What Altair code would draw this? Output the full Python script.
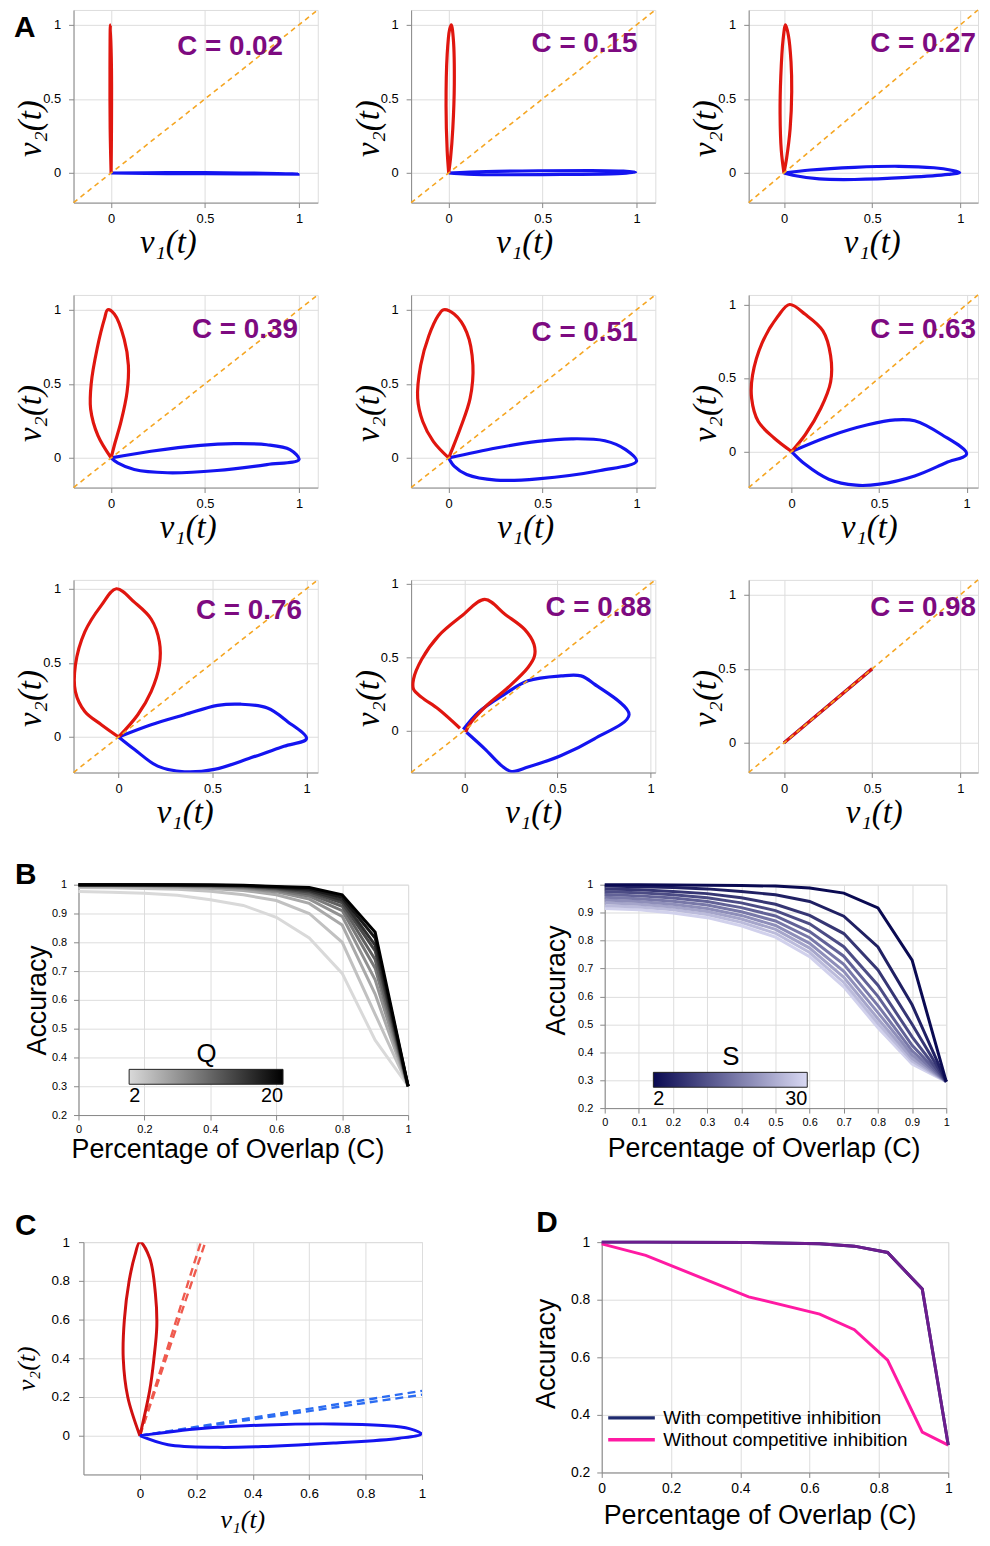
import altair as alt
import pandas as pd

SANS = "Liberation Sans, Arial, Helvetica, sans-serif"
SERIF = "Liberation Serif, DejaVu Serif, Times New Roman, serif"
RED = "#e0160f"
BLUE = "#1414f0"
ORANGE = "#f5a623"
PURPLE_TXT = "#7d0a80"

# ---------------- Panel A : phase portraits ----------------
A_LABELS = ["C = 0.02", "C = 0.15", "C = 0.27", "C = 0.39", "C = 0.51",
            "C = 0.63", "C = 0.76", "C = 0.88", "C = 0.98"]
A_LO = [-0.2, -0.2, -0.2, -0.2, -0.2, -0.245, -0.24, -0.285, -0.2]
A_HI = [1.1, 1.1, 1.1, 1.1, 1.1, 1.065, 1.06, 1.025, 1.1]
A_TICKS = [0, 0.5, 1]

A_BLUE_X = [
    [0, 0.3, 0.7, 0.995, 0.7, 0.3, 0],
    [0, 0.2, 0.5, 0.75, 0.93, 0.995, 0.9, 0.6, 0.3, 0.1, 0],
    [0, 0.15, 0.4, 0.65, 0.85, 0.95, 0.996, 0.93, 0.7, 0.4, 0.2, 0.05, 0],
    [0, 0.212, 0.476, 0.653, 0.829, 0.952, 1.0, 0.829, 0.564, 0.3, 0.123, 0.035, 0],
    [0, 0.252, 0.474, 0.653, 0.831, 0.942, 1.0, 0.808, 0.474, 0.252, 0.096, 0.029, 0],
    [0, 0.212, 0.435, 0.592, 0.703, 0.859, 1.0, 0.882, 0.703, 0.502, 0.368, 0.212, 0.078, 0],
    [0, 0.173, 0.35, 0.527, 0.65, 0.792, 0.898, 1.0, 0.88, 0.703, 0.509, 0.35, 0.208, 0.085, 0],
    [-0.005, 0.075, 0.217, 0.342, 0.52, 0.626, 0.698, 0.884, 0.698, 0.52, 0.342, 0.253, 0.199, 0.11, 0.012],
    [0, 0.5],
]
A_BLUE_Y = [
    [0, 0.002, 0.0, -0.008, -0.006, -0.004, 0],
    [0, 0.01, 0.015, 0.016, 0.012, 0.005, -0.004, -0.01, -0.012, -0.008, 0],
    [0, 0.02, 0.038, 0.045, 0.035, 0.018, 0.003, -0.01, -0.03, -0.044, -0.04, -0.015, 0],
    [0, 0.045, 0.085, 0.096, 0.089, 0.056, -0.011, -0.045, -0.085, -0.1, -0.078, -0.033, 0],
    [0, 0.067, 0.112, 0.129, 0.116, 0.056, -0.022, -0.085, -0.141, -0.15, -0.112, -0.056, 0],
    [0, 0.103, 0.182, 0.215, 0.209, 0.114, -0.016, -0.076, -0.166, -0.222, -0.229, -0.188, -0.087, 0],
    [0, 0.083, 0.15, 0.213, 0.221, 0.195, 0.105, -0.011, -0.063, -0.141, -0.219, -0.235, -0.197, -0.085, 0],
    [0.007, 0.124, 0.248, 0.339, 0.372, 0.372, 0.316, 0.108, -0.056, -0.169, -0.248, -0.278, -0.237, -0.124, -0.011],
    [0, 0.5],
]
A_RED_X = [
    [0, -0.005, -0.006, -0.004, 0.002, 0.002, 0],
    [0, -0.008, -0.014, -0.008, 0.005, 0.014, 0.025, 0.03, 0.022, 0.01, 0],
    [0, -0.015, -0.022, -0.018, -0.005, 0.009, 0.025, 0.04, 0.044, 0.035, 0.015, 0],
    [0, -0.07, -0.109, -0.106, -0.074, -0.035, -0.018, 0.018, 0.07, 0.092, 0.085, 0.053, 0.018, 0],
    [0, -0.082, -0.138, -0.165, -0.149, -0.105, -0.056, -0.027, 0.029, 0.096, 0.129, 0.114, 0.062, 0.018, 0],
    [0, -0.1, -0.19, -0.228, -0.223, -0.167, -0.078, -0.011, 0.078, 0.179, 0.223, 0.223, 0.167, 0.078, 0],
    [0, -0.092, -0.18, -0.23, -0.23, -0.18, -0.092, -0.012, 0.085, 0.173, 0.217, 0.217, 0.173, 0.102, 0],
    [-0.023, -0.139, -0.228, -0.272, -0.272, -0.228, -0.139, -0.014, 0.11, 0.22, 0.324, 0.374, 0.377,
     0.342, 0.235, 0.11, 0.03, 0.007],
    [0, 0.5],
]
A_RED_Y = [
    [0, 0.3, 0.7, 1.0, 0.7, 0.3, 0],
    [0, 0.15, 0.45, 0.8, 0.97, 1.0, 0.9, 0.6, 0.3, 0.1, 0],
    [0, 0.15, 0.4, 0.65, 0.9, 1.0, 0.93, 0.75, 0.55, 0.3, 0.1, 0],
    [0, 0.15, 0.33, 0.5, 0.74, 0.94, 1.0, 0.97, 0.80, 0.625, 0.446, 0.246, 0.089, 0],
    [0, 0.112, 0.246, 0.402, 0.625, 0.826, 0.96, 1.0, 0.971, 0.848, 0.625, 0.402, 0.2, 0.056, 0],
    [0, 0.092, 0.204, 0.361, 0.518, 0.742, 0.92, 1.0, 0.933, 0.821, 0.652, 0.473, 0.294, 0.114, 0],
    [0, 0.083, 0.172, 0.306, 0.485, 0.709, 0.888, 1.0, 0.908, 0.796, 0.642, 0.485, 0.306, 0.15, 0],
    [0.016, 0.147, 0.226, 0.282, 0.35, 0.485, 0.643, 0.779, 0.892, 0.79, 0.688, 0.587, 0.508,
     0.429, 0.293, 0.158, 0.045, -0.011],
    [0, 0.5],
]

# ---------------- Panel B : accuracy vs overlap ----------------
B_C = [0.0, 0.1, 0.2, 0.3, 0.4, 0.5, 0.6, 0.7, 0.8, 0.9, 1.0]
Q_VALUES = [2, 4, 6, 8, 10, 12, 14, 16, 18, 20]
Q_ACC = [
    [0.976, 0.974, 0.970, 0.963, 0.948, 0.928, 0.887, 0.815, 0.692, 0.46, 0.30],
    [0.990, 0.989, 0.987, 0.984, 0.977, 0.965, 0.945, 0.900, 0.800, 0.55, 0.30],
    [0.995, 0.994, 0.993, 0.991, 0.987, 0.980, 0.965, 0.935, 0.860, 0.62, 0.30],
    [0.997, 0.997, 0.996, 0.995, 0.992, 0.987, 0.975, 0.950, 0.890, 0.67, 0.30],
    [0.998, 0.998, 0.997, 0.996, 0.994, 0.990, 0.981, 0.960, 0.910, 0.71, 0.30],
    [0.999, 0.999, 0.998, 0.997, 0.996, 0.993, 0.985, 0.968, 0.925, 0.74, 0.30],
    [0.999, 0.999, 0.999, 0.998, 0.997, 0.995, 0.988, 0.975, 0.937, 0.77, 0.30],
    [1.0, 1.0, 0.999, 0.999, 0.998, 0.996, 0.990, 0.980, 0.947, 0.79, 0.30],
    [1.0, 1.0, 1.0, 0.999, 0.999, 0.997, 0.992, 0.985, 0.956, 0.815, 0.30],
    [1.0, 1.0, 1.0, 1.0, 0.999, 0.998, 0.994, 0.990, 0.965, 0.835, 0.30],
]
S_VALUES = [29, 26, 23, 20, 17, 14, 11, 8, 5, 2]
S_ACC = [
    [0.915, 0.910, 0.899, 0.882, 0.853, 0.812, 0.742, 0.634, 0.488, 0.358, 0.295],
    [0.925, 0.920, 0.910, 0.893, 0.865, 0.826, 0.757, 0.650, 0.503, 0.368, 0.295],
    [0.935, 0.930, 0.920, 0.904, 0.877, 0.840, 0.773, 0.668, 0.520, 0.378, 0.295],
    [0.945, 0.940, 0.930, 0.915, 0.890, 0.854, 0.790, 0.690, 0.542, 0.390, 0.295],
    [0.955, 0.950, 0.941, 0.927, 0.903, 0.870, 0.810, 0.715, 0.567, 0.405, 0.295],
    [0.965, 0.960, 0.952, 0.940, 0.918, 0.888, 0.832, 0.744, 0.600, 0.425, 0.295],
    [0.975, 0.971, 0.964, 0.953, 0.935, 0.907, 0.860, 0.778, 0.640, 0.455, 0.295],
    [0.985, 0.982, 0.976, 0.968, 0.953, 0.930, 0.890, 0.825, 0.695, 0.500, 0.295],
    [0.995, 0.993, 0.990, 0.985, 0.976, 0.964, 0.940, 0.887, 0.777, 0.570, 0.295],
    [1.0, 1.0, 0.999, 0.998, 0.997, 0.995, 0.988, 0.970, 0.917, 0.730, 0.295],
]
Q_RANGE = [2, 20]
S_RANGE = [2, 30]

# ---------------- Panel C : single trajectories ----------------
C_RED_X = [0, -0.043, -0.059, -0.055, -0.038, -0.018, 0.0, 0.035, 0.055, 0.06, 0.05, 0.035, 0]
C_RED_Y = [0, 0.2, 0.4, 0.6, 0.8, 0.93, 1.0, 0.917, 0.734, 0.568, 0.402, 0.236, 0]
C_BLUE_X = [0, 0.217, 0.451, 0.686, 0.862, 0.955, 0.997, 0.92, 0.686, 0.451, 0.276, 0.1, 0]
C_BLUE_Y = [0, 0.037, 0.056, 0.061, 0.053, 0.037, 0.01, -0.013, -0.038, -0.055, -0.06, -0.047, 0]
C_RED_DASH_X = [[0, 0.216], [0, 0.232]]
C_RED_DASH_Y = [[0, 1.0], [0, 1.0]]
C_BLUE_DASH_X = [[0, 1.0], [0, 1.0]]
C_BLUE_DASH_Y = [[0, 0.232], [0, 0.212]]

# ---------------- Panel D ----------------
D_C = [0, 0.127, 0.424, 0.629, 0.729, 0.825, 0.925, 1.0]
D_WITH = [1.0, 1.0, 0.999, 0.994, 0.986, 0.964, 0.837, 0.295]
D_WITHOUT = [0.994, 0.954, 0.81, 0.75, 0.696, 0.59, 0.34, 0.295]
D_NAMES = ["With competitive inhibition", "Without competitive inhibition"]

# ---------------- layout / style (not data) ----------------
A_W = [246, 246, 231]
A_H = 194
A_TEXT_R = [35, 18, 2, 20, 18, 2, 16, 4, 2]
A_TEXT_B = [45, 42, 42, 43, 46, 43, 39, 36, 36]
A_XT = [95, 114, 124, 115, 115, 121, 112, 123, 126]


def loop_df(xs, ys):
    return pd.DataFrame({"x": xs, "y": ys, "o": list(range(len(xs)))})


def letter_mark(letter, x, y):
    return alt.Chart(pd.DataFrame({"t": [letter]})).mark_text(
        align="left", baseline="alphabetic", font=SANS, fontSize=30, fontWeight="bold",
        color="black").encode(x=alt.value(x), y=alt.value(y), text="t:N")


def spacer(w):
    return alt.Chart(pd.DataFrame({"v": [0]})).mark_point(opacity=0).encode(
        x=alt.value(0), y=alt.value(0)
    ).properties(width=w, height=10, view=alt.ViewBackground(strokeOpacity=0))


def phase_panel(i, letter=None):
    w = A_W[i % 3]
    h = A_H
    lo, hi = A_LO[i], A_HI[i]
    sc = alt.Scale(domain=[lo, hi], nice=False, zero=False)
    xax = alt.Axis(values=A_TICKS, format="~g", title="ν₁(t)", titleFont=SERIF,
                   titleFontSize=33, titleFontStyle="italic", titleFontWeight="normal",
                   titleColor="black", titleAlign="center", titleBaseline="alphabetic",
                   titleX=A_XT[i], titleY=50, labelFontSize=13, labelPadding=5,
                   labelFlush=False, labelOverlap=False)
    yax = alt.Axis(values=A_TICKS, format="~g", title="ν₂(t)", titleFont=SERIF,
                   titleFontSize=33, titleFontStyle="italic", titleFontWeight="normal",
                   titleColor="black", titleAlign="center", titleBaseline="alphabetic",
                   titleAngle=270, titleX=-33, titleY=119, labelFontSize=13,
                   labelPadding=8, labelFlush=False, labelOverlap=False)
    enc = dict(x=alt.X("x:Q", scale=sc, axis=xax), y=alt.Y("y:Q", scale=sc, axis=yax),
               order=alt.Order("o:Q"))
    blue = alt.Chart(loop_df(A_BLUE_X[i], A_BLUE_Y[i])).mark_line(
        color=BLUE, strokeWidth=3.2, interpolate="catmull-rom", clip=True).encode(**enc)
    red = alt.Chart(loop_df(A_RED_X[i], A_RED_Y[i])).mark_line(
        color=RED, strokeWidth=3.2, interpolate="catmull-rom", clip=True).encode(**enc)
    diag = alt.Chart(loop_df([lo, hi], [lo, hi])).mark_line(
        color=ORANGE, strokeWidth=1.6, strokeDash=[5, 4]).encode(**enc)
    txt = alt.Chart(pd.DataFrame({"t": [A_LABELS[i]]})).mark_text(
        align="right", baseline="alphabetic", font=SANS, fontSize=28, fontWeight="bold",
        color=PURPLE_TXT).encode(x=alt.value(w - A_TEXT_R[i]), y=alt.value(A_TEXT_B[i]),
                                 text="t:N")
    layers = [blue, red, diag, txt]
    if letter:
        layers.append(letter_mark(letter, -60, 27.5))
    return alt.layer(*layers).properties(width=w, height=h)


def acc_axes(xvals, yvals, xt_x, xt_y, yt_x, yt_y, lab):
    xax = alt.Axis(values=xvals, format="~g", title="Percentage of Overlap (C)",
                   titleFont=SANS, titleFontSize=27, titleFontWeight="normal",
                   titleColor="black", titleAlign="center", titleBaseline="alphabetic",
                   titleX=xt_x, titleY=xt_y, labelFontSize=lab, labelPadding=4,
                   labelFlush=False, labelOverlap=False)
    yax = alt.Axis(values=yvals, format="~g", title="Accuracy", titleFont=SANS,
                   titleFontSize=27, titleFontWeight="normal", titleColor="black",
                   titleAlign="center", titleBaseline="alphabetic", titleAngle=270,
                   titleX=yt_x, titleY=yt_y, labelFontSize=lab, labelPadding=7,
                   labelFlush=False, labelOverlap=False)
    return xax, yax


def grad_legend(title, vals, lx, ly):
    return alt.Legend(orient="none", legendX=lx, legendY=ly, direction="horizontal",
                      gradientLength=155, gradientThickness=15, title=title, values=vals,
                      titleFont=SANS, titleFontSize=26, titleFontWeight="normal",
                      titleColor="black", titleAnchor="middle", titlePadding=2,
                      labelFont=SANS, labelFontSize=20, labelColor="black",
                      labelOffset=2, gradientStrokeColor="#222222", gradientStrokeWidth=1)


ACC_Y = [0.2, 0.3, 0.4, 0.5, 0.6, 0.7, 0.8, 0.9, 1.0]

# B left
q_rows = []
for q, accs in zip(Q_VALUES, Q_ACC):
    for c, a in zip(B_C, accs):
        q_rows.append({"C": c, "acc": a, "Q": q})
q_df = pd.DataFrame(q_rows)
bl_x, bl_y = acc_axes([0, 0.2, 0.4, 0.6, 0.8, 1.0], ACC_Y, 150, 43, -33, 116, 11)
b_left = alt.layer(
    alt.Chart(q_df).mark_line(strokeWidth=3).encode(
        x=alt.X("C:Q", scale=alt.Scale(domain=[0, 1], nice=False), axis=bl_x),
        y=alt.Y("acc:Q", scale=alt.Scale(domain=[0.2, 1], nice=False, zero=False), axis=bl_y),
        color=alt.Color("Q:Q", scale=alt.Scale(domain=Q_RANGE, range=["#d9d9d9", "#000000"],
                                               interpolate="rgb"),
                        legend=grad_legend("Q", Q_RANGE, 51, 158)),
        detail="Q:N"),
    letter_mark("B", -64, -1),
).properties(width=332, height=232)

# B right
s_rows = []
for s, accs in zip(S_VALUES, S_ACC):
    for c, a in zip(B_C, accs):
        s_rows.append({"C": c, "acc": a, "S": s})
s_df = pd.DataFrame(s_rows)
br_x, br_y = acc_axes(B_C, ACC_Y, 160, 49, -41, 96, 11)
b_right = alt.Chart(s_df).mark_line(strokeWidth=3).encode(
    x=alt.X("C:Q", scale=alt.Scale(domain=[0, 1], nice=False), axis=br_x),
    y=alt.Y("acc:Q", scale=alt.Scale(domain=[0.2, 1], nice=False, zero=False), axis=br_y),
    color=alt.Color("S:Q", scale=alt.Scale(domain=S_RANGE, range=["#0a0a52", "#d8d8f2"],
                                           interpolate="rgb"),
                    legend=grad_legend("S", S_RANGE, 49, 161)),
    detail="S:N",
).properties(width=344, height=225)

# C panel
C_W, C_H = 341, 234
c_sc = alt.Scale(domain=[-0.2, 1], nice=False, zero=False)
C_TICKS = [0, 0.2, 0.4, 0.6, 0.8, 1.0]
c_xax = alt.Axis(values=C_TICKS, format="~g", title="ν₁(t)", titleFont=SERIF,
                 titleFontSize=26, titleFontStyle="italic", titleFontWeight="normal",
                 titleColor="black", titleAlign="center", titleBaseline="alphabetic",
                 titleX=160, titleY=53, labelFontSize=13.5, labelPadding=7,
                 labelFlush=False, labelOverlap=False)
c_yax = alt.Axis(values=C_TICKS, format="~g", title="ν₂(t)", titleFont=SERIF,
                 titleFontSize=26, titleFontStyle="italic", titleFontWeight="normal",
                 titleColor="black", titleAlign="center", titleBaseline="alphabetic",
                 titleAngle=270, titleX=-49, titleY=127, labelFontSize=13.5, labelPadding=9,
                 labelFlush=False, labelOverlap=False)
c_enc = dict(x=alt.X("x:Q", scale=c_sc, axis=c_xax), y=alt.Y("y:Q", scale=c_sc, axis=c_yax),
             order=alt.Order("o:Q"))


def dash_df(xss, yss, tag):
    rows = []
    for k, (xs, ys) in enumerate(zip(xss, yss)):
        for j, (x, y) in enumerate(zip(xs, ys)):
            rows.append({"x": x, "y": y, "o": j, "line": f"{tag}{k}"})
    return pd.DataFrame(rows)


c_panel = alt.layer(
    alt.Chart(dash_df(C_RED_DASH_X, C_RED_DASH_Y, "r")).mark_line(
        color="#ef5a4e", strokeWidth=2.4, strokeDash=[8, 5], clip=True
    ).encode(detail="line:N", **c_enc),
    alt.Chart(dash_df(C_BLUE_DASH_X, C_BLUE_DASH_Y, "b")).mark_line(
        color="#2b6cf2", strokeWidth=2.4, strokeDash=[8, 5], clip=True
    ).encode(detail="line:N", **c_enc),
    alt.Chart(loop_df(C_RED_X, C_RED_Y)).mark_line(
        color="#d01010", strokeWidth=3, interpolate="catmull-rom", clip=True).encode(**c_enc),
    alt.Chart(loop_df(C_BLUE_X, C_BLUE_Y)).mark_line(
        color=BLUE, strokeWidth=3, interpolate="catmull-rom", clip=True).encode(**c_enc),
    letter_mark("C", -69, -7),
).properties(width=C_W, height=C_H)

# D panel
d_rows = []
for name, vals in zip(D_NAMES, [D_WITH, D_WITHOUT]):
    for c, a in zip(D_C, vals):
        d_rows.append({"C": c, "acc": a, "series": name})
d_df = pd.DataFrame(d_rows)
d_with_df = d_df[d_df["series"] == D_NAMES[0]]
D_W, D_H = 349, 232
d_x, d_y = acc_axes([0, 0.2, 0.4, 0.6, 0.8, 1.0], [0.2, 0.4, 0.6, 0.8, 1.0], 159, 51, -48, 112, 14)
d_enc = dict(x=alt.X("C:Q", scale=alt.Scale(domain=[0, 1], nice=False), axis=d_x),
             y=alt.Y("acc:Q", scale=alt.Scale(domain=[0.2, 1], nice=False, zero=False), axis=d_y))
d_panel = alt.layer(
    alt.Chart(d_df).mark_line(strokeWidth=3).encode(
        color=alt.Color("series:N", scale=alt.Scale(domain=D_NAMES, range=["#1f2a6e", "#ff1aa3"]),
                        legend=alt.Legend(title=None, orient="none", legendX=20, legendY=167,
                                          symbolType="M-3,0L3,0", symbolSize=245,
                                          symbolStrokeWidth=3.5, labelFont=SANS,
                                          labelFontSize=19, labelColor="black", labelOffset=22,
                                          rowPadding=2, padding=0, labelLimit=400)),
        **d_enc),
    alt.Chart(d_with_df).mark_line(strokeWidth=3, color="#6d1d8e").encode(**d_enc),
    letter_mark("D", -66, -10),
).properties(width=D_W, height=D_H)

# ---------------- assemble ----------------
row1 = alt.hconcat(phase_panel(0, "A"), phase_panel(1), phase_panel(2), spacing=94, bounds="flush")
row2 = alt.hconcat(phase_panel(3), phase_panel(4), phase_panel(5), spacing=94, bounds="flush")
row3 = alt.hconcat(phase_panel(6), phase_panel(7), phase_panel(8), spacing=94, bounds="flush")
rowB_in = alt.hconcat(b_left, b_right, spacing=198, bounds="flush").resolve_scale(color="independent")
rowB = alt.hconcat(spacer(5), rowB_in, spacing=0, bounds="flush").resolve_scale(color="independent")
rowCD_in = alt.hconcat(c_panel, d_panel, spacing=181, bounds="flush").resolve_scale(color="independent")
rowCD = alt.hconcat(spacer(10), rowCD_in, spacing=0, bounds="flush").resolve_scale(color="independent")

rowsA = alt.vconcat(row1, row2, row3, spacing=31)
upper = alt.vconcat(rowsA, rowB, spacing=29).resolve_scale(color="independent")
chart = alt.vconcat(upper, rowCD, spacing=44).resolve_scale(
    color="independent"
).properties(
    padding={"left": 5, "top": -7.5, "right": 0, "bottom": 0}
).configure_axis(
    labelFont=SANS, labelColor="#262626", gridColor="#e3e3e3", gridWidth=1,
    domain=False, ticks=False, tickSize=0
).configure_view(stroke="#8f8f8f", strokeWidth=1.2).configure(background="white")

chart.save("out.html", embed_options={"renderer": "svg", "actions": False})
